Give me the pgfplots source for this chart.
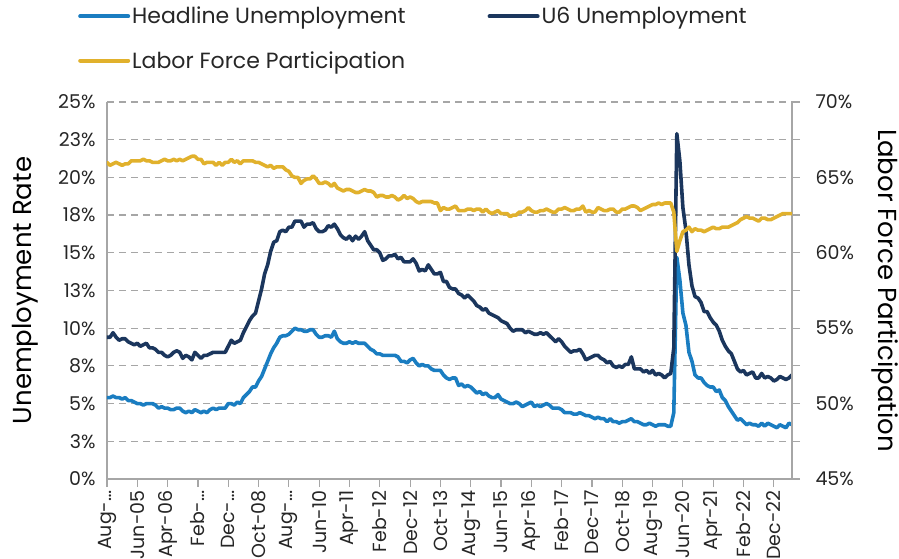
\documentclass[border=0pt]{standalone}
\usepackage{fontspec}
\setmainfont{Poppins}
\usepackage{pgfplots}
\usepackage{pgfplotstable}
\pgfplotsset{compat=1.18}

\definecolor{headline}{HTML}{1A7DC1}
\definecolor{usix}{HTML}{1B365D}
\definecolor{lfpr}{HTML}{E1B12C}
\definecolor{gridgray}{HTML}{A6A6A6}

% monthly, Aug-04 .. Jun-23
\pgfplotstableread{
u3 u6 lfpr
5.4 9.4 66.0
5.4 9.4 65.8
5.5 9.7 65.9
5.4 9.4 66.0
5.4 9.2 65.9
5.3 9.3 65.8
5.4 9.3 65.9
5.2 9.1 65.9
5.2 9.0 66.1
5.1 8.9 66.1
5.0 9.0 66.1
5.0 8.8 66.1
4.9 8.9 66.2
5.0 9.0 66.1
5.0 8.7 66.1
5.0 8.7 66.0
4.9 8.6 66.0
4.7 8.4 66.0
4.8 8.4 66.1
4.7 8.2 66.2
4.7 8.1 66.1
4.6 8.2 66.1
4.6 8.4 66.2
4.7 8.5 66.1
4.7 8.4 66.2
4.5 8.0 66.1
4.4 8.2 66.2
4.5 8.1 66.3
4.4 7.9 66.4
4.6 8.4 66.4
4.5 8.2 66.2
4.4 8.0 66.2
4.5 8.2 65.9
4.4 8.2 66.0
4.6 8.3 66.0
4.7 8.4 66.0
4.6 8.4 65.8
4.7 8.4 66.0
4.7 8.4 65.8
4.7 8.4 66.0
5.0 8.8 66.0
5.0 9.2 66.2
4.9 9.0 66.0
5.1 9.1 66.1
5.0 9.2 65.9
5.4 9.7 66.1
5.6 10.1 66.1
5.8 10.5 66.1
6.1 10.8 66.1
6.1 11.0 66.0
6.5 11.8 66.0
6.8 12.6 65.9
7.3 13.6 65.8
7.8 14.2 65.7
8.3 15.1 65.8
8.7 15.7 65.6
9.0 15.8 65.7
9.4 16.4 65.7
9.5 16.5 65.7
9.5 16.4 65.5
9.6 16.7 65.4
9.8 16.7 65.1
10.0 17.1 65.0
9.9 17.1 65.0
9.9 17.1 64.6
9.8 16.7 64.8
9.8 16.9 64.9
9.9 16.9 64.9
9.9 17.0 65.1
9.6 16.6 64.9
9.4 16.4 64.6
9.4 16.4 64.6
9.5 16.5 64.7
9.5 16.8 64.6
9.4 16.7 64.4
9.8 16.9 64.6
9.3 16.6 64.3
9.1 16.2 64.2
9.0 16.0 64.1
9.0 15.9 64.2
9.1 16.1 64.2
9.0 15.8 64.1
9.1 16.1 64.0
9.0 15.9 64.0
9.0 16.1 64.1
9.0 16.4 64.2
8.8 15.8 64.1
8.6 15.5 64.1
8.5 15.2 64.0
8.3 15.2 63.7
8.3 15.0 63.8
8.2 14.5 63.8
8.2 14.6 63.7
8.2 14.8 63.7
8.2 14.8 63.8
8.2 14.9 63.7
8.1 14.6 63.5
7.8 14.7 63.6
7.8 14.4 63.8
7.7 14.4 63.6
7.9 14.4 63.7
8.0 14.6 63.6
7.7 14.3 63.4
7.5 13.8 63.3
7.6 13.9 63.4
7.5 13.8 63.4
7.5 14.2 63.4
7.3 13.9 63.4
7.2 13.6 63.3
7.2 13.6 63.3
7.2 13.7 62.8
6.9 13.1 63.0
6.7 13.1 62.9
6.6 12.7 62.9
6.7 12.6 63.0
6.7 12.6 63.1
6.2 12.3 62.8
6.3 12.2 62.8
6.1 12.0 62.8
6.2 12.2 62.9
6.1 12.0 62.9
5.9 11.8 62.8
5.7 11.5 62.9
5.8 11.4 62.9
5.6 11.2 62.7
5.7 11.3 62.9
5.5 11.0 62.7
5.4 10.9 62.6
5.4 10.8 62.7
5.6 10.7 62.8
5.3 10.5 62.6
5.2 10.4 62.6
5.1 10.3 62.6
5.0 10.0 62.4
5.0 9.8 62.5
5.1 9.9 62.5
5.0 9.9 62.7
4.8 9.9 62.7
4.9 9.7 62.8
5.0 9.8 63.0
5.1 9.7 62.8
4.8 9.6 62.7
4.9 9.6 62.7
4.8 9.7 62.8
4.9 9.6 62.8
5.0 9.7 62.9
4.9 9.5 62.8
4.7 9.3 62.7
4.7 9.1 62.7
4.7 9.3 62.9
4.6 9.1 62.9
4.4 8.8 63.0
4.4 8.6 62.9
4.4 8.4 62.8
4.3 8.5 62.8
4.3 8.5 62.9
4.4 8.6 62.9
4.3 8.3 63.1
4.2 7.9 62.7
4.2 8.0 62.8
4.1 8.1 62.7
4.0 8.2 62.7
4.1 8.2 63.0
4.0 8.0 62.9
4.0 7.9 62.8
3.8 7.7 62.8
4.0 7.8 62.9
3.8 7.5 62.9
3.8 7.4 62.7
3.7 7.5 62.7
3.8 7.4 62.9
3.8 7.6 62.9
3.9 7.6 63.0
4.0 8.1 63.1
3.8 7.3 63.1
3.8 7.3 63.0
3.7 7.3 62.8
3.6 7.1 62.9
3.6 7.2 63.0
3.7 7.0 63.1
3.6 7.2 63.2
3.5 6.9 63.2
3.6 7.0 63.3
3.6 6.9 63.2
3.6 6.7 63.3
3.5 6.9 63.3
3.5 7.0 63.3
4.4 8.7 62.7
14.7 22.9 60.1
13.2 21.1 60.8
11.0 18.0 61.4
10.2 16.5 61.5
8.4 14.2 61.7
7.8 12.8 61.4
6.9 12.1 61.6
6.7 12.0 61.5
6.7 11.7 61.5
6.4 11.1 61.4
6.2 11.1 61.5
6.1 10.7 61.6
6.1 10.4 61.7
5.8 10.2 61.6
5.9 9.8 61.6
5.4 9.2 61.7
5.2 8.8 61.7
4.8 8.5 61.7
4.5 8.3 61.8
4.2 7.8 61.9
3.9 7.3 62.0
4.0 7.1 62.2
3.8 7.2 62.3
3.6 6.9 62.4
3.7 7.0 62.3
3.6 7.1 62.3
3.6 6.7 62.2
3.5 6.7 62.1
3.7 7.0 62.3
3.5 6.7 62.3
3.7 6.8 62.2
3.6 6.7 62.2
3.5 6.5 62.3
3.4 6.6 62.4
3.6 6.8 62.5
3.5 6.7 62.6
3.4 6.6 62.6
3.7 6.7 62.6
3.6 6.9 62.6
}\labordata

\begin{document}
\begin{tikzpicture}
\pgfplotsset{
  common/.style={
    scale only axis, width=685pt, height=377pt,
    xmin=0, xmax=226,
    /pgf/number format/assume math mode=true,
    tick label style={font=\fontsize{19}{22}\selectfont, text=black!85},
    every axis plot/.append style={line width=3.6pt, line join=round, line cap=round},
    axis line style={gridgray, line width=1.2pt},
    tick align=outside,
    major tick length=8pt, minor tick length=8pt,
  },
}
\begin{axis}[
  common, name=ax,
  ymin=0, ymax=25,
  axis x line*=bottom, axis y line*=left,
  ytick={0,2.5,5,7.5,10,12.5,15,17.5,20,22.5,25},
  yticklabels={0\%,3\%,5\%,8\%,10\%,13\%,15\%,18\%,20\%,23\%,25\%},
  ytick style={draw=none},
  xtick={0,10,...,220},
  xticklabels={Aug-…,Jun-05,Apr-06,Feb-…,Dec-…,Oct-08,Aug-…,Jun-10,Apr-11,Feb-12,Dec-12,Oct-13,Aug-14,Jun-15,Apr-16,Feb-17,Dec-17,Oct-18,Aug-19,Jun-20,Apr-21,Feb-22,Dec-22},
  xticklabel style={rotate=90, anchor=east},
  xtick style={gridgray, line width=1.2pt},
  ymajorgrids, grid style={gridgray, dashed, line width=1.2pt, dash pattern=on 7pt off 5pt},
  ylabel={Unemployment Rate},
  every axis y label/.style={at={(axis description cs:-0.1197,0.5)}, anchor=center, rotate=90, font=\fontsize{26}{30}\selectfont},
]
\addplot[headline] table[x expr=\coordindex, y=u3] {\labordata};
\addplot[usix] table[x expr=\coordindex, y=u6] {\labordata};
\end{axis}

\begin{axis}[
  common,
  ymin=45, ymax=70,
  axis x line=none, axis y line*=right,
  ytick={45,50,55,60,65,70},
  yticklabels={45\%,50\%,55\%,60\%,65\%,70\%},
  minor ytick={47.5,52.5,57.5,62.5,67.5},
  ytick style={gridgray, line width=1.2pt},
  minor tick style={gridgray, line width=1.2pt},
  yticklabel style={xshift=12pt},
  ylabel={Labor Force Participation},
  every axis y label/.style={at={(axis description cs:1.1358,0.5)}, anchor=center, rotate=-90, font=\fontsize{26}{30}\selectfont},
  legend columns=2,
  legend cell align=left,
  legend style={at={(axis description cs:-0.0467,1.2626)}, anchor=north west, draw=none, fill=none,
    font=\fontsize{22}{26}\selectfont, text=black!85, row sep=22pt,
    /tikz/every even column/.append style={column sep=80pt}},
  legend image code/.code={\draw[#1, line width=4pt, line cap=round] (0pt,0pt) -- (48pt,0pt);},
]
\addlegendimage{headline}
\addlegendentry{Headline Unemployment}
\addlegendimage{usix}
\addlegendentry{U6 Unemployment}
\addplot[lfpr] table[x expr=\coordindex, y=lfpr] {\labordata};
\addlegendentry{Labor Force Participation}
\end{axis}

\pgfresetboundingbox
\path[use as bounding box] ([xshift=-107pt,yshift=-80pt]ax.south west) rectangle ([xshift=107pt,yshift=102pt]ax.north east);
\end{tikzpicture}
\end{document}
